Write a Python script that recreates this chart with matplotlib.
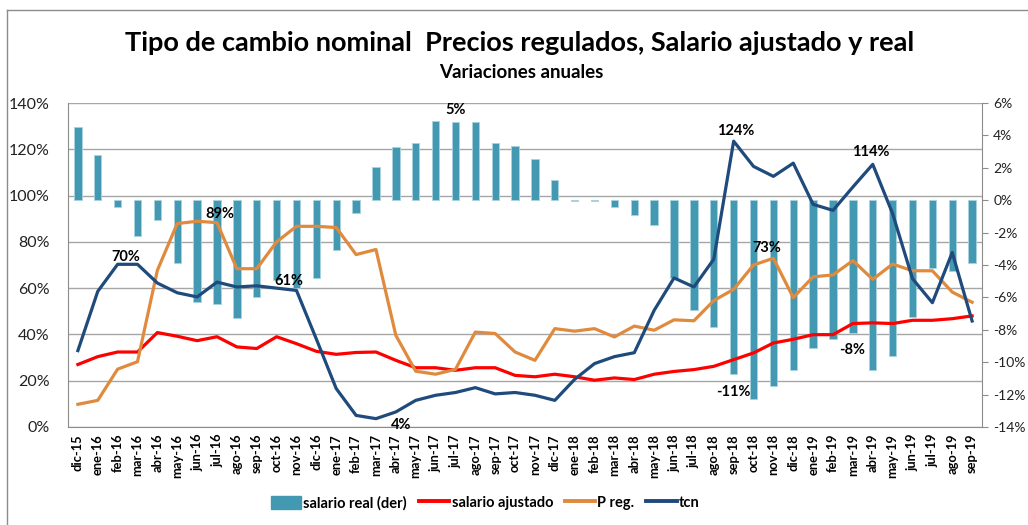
import numpy as np
import matplotlib.pyplot as plt
from matplotlib.lines import Line2D
from matplotlib.ticker import FuncFormatter

plt.rcParams['font.family'] = ['Lato', 'DejaVu Sans']

months = ['dic-15', 'ene-16', 'feb-16', 'mar-16', 'abr-16', 'may-16', 'jun-16', 'jul-16',
          'ago-16', 'sep-16', 'oct-16', 'nov-16', 'dic-16', 'ene-17', 'feb-17', 'mar-17',
          'abr-17', 'may-17', 'jun-17', 'jul-17', 'ago-17', 'sep-17', 'oct-17', 'nov-17',
          'dic-17', 'ene-18', 'feb-18', 'mar-18', 'abr-18', 'may-18', 'jun-18', 'jul-18',
          'ago-18', 'sep-18', 'oct-18', 'nov-18', 'dic-18', 'ene-19', 'feb-19', 'mar-19',
          'abr-19', 'may-19', 'jun-19', 'jul-19', 'ago-19', 'sep-19']

# salario real (eje derecho), variacion anual
salario_real = [4.5, 2.8, -0.45, -2.2, -1.2, -3.9, -6.3, -6.4, -7.25, -6.0, -4.9, -5.4,
                -4.8, -3.1, -0.76, 2.07, 3.3, 3.54, 4.9, 4.83, 4.83, 3.54, 3.35, 2.53,
                1.24, -0.06, -0.06, -0.45, -0.93, -1.53, -4.8, -6.8, -7.84, -10.7, -12.25,
                -11.5, -10.5, -9.1, -8.57, -8.18, -10.5, -9.6, -7.2, -4.2, -4.35, -3.9]

salario_ajustado = [27.0, 30.4, 32.4, 32.4, 40.8, 39.2, 37.3, 39.0, 34.6, 33.9, 39.0, 36.0,
                    32.7, 31.4, 32.2, 32.4, 28.8, 25.6, 25.6, 24.5, 25.6, 25.6, 22.3, 21.7,
                    22.8, 21.7, 20.2, 21.2, 20.5, 22.8, 24.0, 24.8, 26.2, 29.1, 32.0, 36.3,
                    37.9, 39.9, 39.9, 44.7, 45.0, 44.7, 46.1, 46.1, 46.8, 48.0]

p_reg = [9.8, 11.5, 25.0, 28.2, 67.7, 87.9, 88.9, 88.3, 68.4, 68.4, 80.0, 86.7,
         86.7, 86.2, 74.5, 76.7, 39.6, 24.1, 22.8, 24.9, 41.0, 40.4, 32.4, 28.8,
         42.5, 41.4, 42.5, 38.9, 43.6, 41.8, 46.3, 45.9, 54.6, 59.5, 70.0, 72.9,
         55.9, 64.9, 65.7, 71.9, 63.8, 70.4, 67.5, 67.5, 58.3, 53.9]

tcn = [33.0, 58.6, 70.3, 70.3, 62.2, 58.0, 56.2, 62.6, 60.5, 61.0, 60.0, 59.0,
       38.0, 16.6, 5.0, 3.6, 6.5, 11.5, 13.7, 14.9, 17.0, 14.3, 14.9, 13.7,
       11.5, 20.6, 27.4, 30.4, 32.1, 50.4, 64.4, 60.5, 72.5, 123.5, 112.6, 108.3,
       114.0, 96.2, 93.6, 103.7, 113.5, 92.2, 64.1, 53.7, 75.4, 45.8]

# etiquetas de datos: (serie, mes, texto)
labels = [('tcn', 2, '70%'), ('p_reg', 7, '89%'), ('tcn', 11, '61%'), ('tcn', 15, '4%'),
          ('real', 19, '5%'), ('tcn', 33, '124%'), ('p_reg', 35, '73%'), ('tcn', 40, '114%'),
          ('real', 33, '-11%'), ('real', 39, '-8%')]

c_bar = '#4499B2'
c_red = '#FF0000'
c_org = '#E08A3E'
c_navy = '#1F4A7C'
c_grid = '#A6A6A6'

x = np.arange(len(months))

fig = plt.figure(figsize=(10.28, 5.25), dpi=100)
ax = fig.add_axes([0.0661, 0.1867, 0.8892, 0.6171])
ax2 = ax.twinx()
ax3 = ax.twinx()

ax.set_ylim(0, 1.4)
ax.set_yticks(np.arange(0, 1.41, 0.2))
ax.yaxis.set_major_formatter(FuncFormatter(lambda v, p: f'{v*100:.0f}%'))
ax.grid(axis='y', color=c_grid, lw=1)
ax.set_axisbelow(True)
ax.tick_params(axis='y', length=0, labelsize=11.5, pad=13, colors='#222222')
ax.set_xlim(-0.5, len(months) - 0.5)
ax.set_xticks(x)
ax.set_xticklabels(months, rotation=90, fontsize=9.3, fontweight='bold')
ax.tick_params(axis='x', length=0, pad=5)
for s in ['top', 'right']:
    ax.spines[s].set_visible(False)
for s in ['left', 'bottom']:
    ax.spines[s].set_color('#8C8C8C')

ax2.bar(x, np.array(salario_real) / 100, width=0.37, color=c_bar,
        edgecolor='#A9D3DF', linewidth=0.6, zorder=2)
ax2.set_ylim(-0.14, 0.06)
ax2.set_yticks(np.arange(-0.14, 0.061, 0.02))
ax2.yaxis.set_major_formatter(FuncFormatter(lambda v, p: f'{v*100:.0f}%'))
ax2.tick_params(axis='y', length=4, color='#8C8C8C', labelsize=10, pad=4, colors='#222222')
ax2.tick_params(axis='y', color='#8C8C8C')
for s in ['top', 'left', 'bottom']:
    ax2.spines[s].set_visible(False)
ax2.spines['right'].set_color('#8C8C8C')

ax3.set_ylim(0, 1.4)
ax3.axis('off')
ax3.plot(x, np.array(salario_ajustado) / 100, color=c_red, lw=2.3, solid_joinstyle='round')
ax3.plot(x, np.array(p_reg) / 100, color=c_org, lw=2.3, solid_joinstyle='round')
ax3.plot(x, np.array(tcn) / 100, color=c_navy, lw=2.3, solid_joinstyle='round')

series = {'tcn': (ax3, np.array(tcn) / 100), 'p_reg': (ax3, np.array(p_reg) / 100),
          'real': (ax2, np.array(salario_real) / 100)}
offsets = {2: (8, 7), 7: (3, 9), 11: (-8, 9), 15: (25, -6), 19: (0, 12), 33: (2, 10),
           35: (-7, 10), 40: (-2, 12)}
for name, i, txt in labels:
    a, vals = series[name]
    v = vals[i]
    if name == 'real' and v < 0:
        dx, dy = (0, -18) if i == 33 else (-1, -17)
    else:
        dx, dy = offsets[i]
    a.annotate(txt, (x[i], v), xytext=(dx, dy), textcoords='offset pixels',
               ha='center', va='center', fontsize=10.5, fontweight='bold', zorder=5)

ax2.set_zorder(2)
ax3.set_zorder(3)
ax2.patch.set_visible(False)
ax3.patch.set_visible(False)

fig.text(0.505, 0.918, 'Tipo de cambio nominal  Precios regulados, Salario ajustado y real',
         ha='center', va='center', fontsize=19.5, fontweight='bold')
fig.text(0.507, 0.862, 'Variaciones anuales', ha='center', va='center',
         fontsize=13.5, fontweight='bold')

handles = [plt.Rectangle((0, 0), 1, 1, color=c_bar),
           Line2D([], [], color=c_red, lw=2.8),
           Line2D([], [], color=c_org, lw=2.8),
           Line2D([], [], color=c_navy, lw=2.8)]
fig.legend(handles, ['salario real (der)', 'salario ajustado', 'P reg.', 'tcn'],
           loc='center', bbox_to_anchor=(0.472, 0.042), ncol=4, frameon=False,
           prop={'weight': 'bold', 'size': 10.5}, handlelength=2.1, handleheight=1.0,
           handletextpad=0.15, columnspacing=0.8)

fig.add_artist(Line2D([7 / 1028, 1], [1 - 10 / 525, 1 - 10 / 525], color='#8C8C8C', lw=1))
fig.add_artist(Line2D([7 / 1028, 7 / 1028], [0, 1 - 10 / 525], color='#8C8C8C', lw=1))

fig.savefig('out.png', dpi=100)
